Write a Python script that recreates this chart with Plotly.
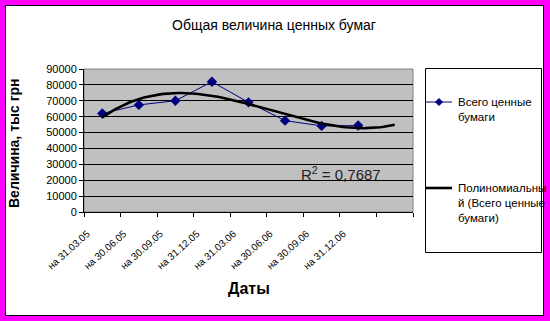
import numpy as np
import plotly.graph_objects as go

# ---------------- data ----------------
categories = ["на 31.03.05", "на 30.06.05", "на 30.09.05", "на 31.12.05",
              "на 31.03.06", "на 30.06.06", "на 30.09.06", "на 31.12.06", " "]
securities_total = [62000, 67400, 70000, 82000, 69000, 57500, 54200, 54400]
y_ticks = [0, 10000, 20000, 30000, 40000, 50000, 60000, 70000, 80000, 90000]
series_name = "Всего ценные бумаги"
trend_name = "Полиномиальный (Всего ценные бумаги)"
r2_text = "R<sup>2</sup> = 0,7687"
title_text = "Общая величина ценных бумаг"
x_title = "Даты"
y_title = "Величина, тыс грн"

# cubic polynomial trendline (Excel-style), forecast forward one period
idx = np.arange(len(securities_total))
coef = np.polyfit(idx, securities_total, 3)
trend_x = np.linspace(0, len(categories) - 1, 120)
trend_y = np.polyval(coef, trend_x)

# ---------------- layout geometry (pixels) ----------------
W, H = 550, 321
L, R, T, B = 84, 413, 69, 212
FONT = "Liberation Sans, Arial, sans-serif"


def px(p):
    return (p - L) / (R - L)


def py(p):
    return (B - p) / (B - T)


fig = go.Figure()

fig.add_trace(go.Scatter(
    x=categories[:len(securities_total)], y=securities_total,
    mode="lines+markers", name=series_name,
    line=dict(color="#000080", width=1),
    marker=dict(symbol="diamond", size=8, color="#000080"),
    xaxis="x", yaxis="y", showlegend=False, hoverinfo="skip"))

fig.add_trace(go.Scatter(
    x=trend_x, y=trend_y, mode="lines", name=trend_name,
    line=dict(color="#000000", width=2.6),
    xaxis="x2", yaxis="y", showlegend=False, hoverinfo="skip"))

shapes = [
    # chart area (white with black frame inside magenta border)
    dict(type="rect", xref="paper", yref="paper", layer="below",
         x0=px(5.5), x1=px(543.5), y0=py(315.5), y1=py(5.5),
         fillcolor="white", line=dict(color="black", width=1)),
    # plot area
    dict(type="rect", xref="paper", yref="paper", layer="below",
         x0=0, x1=1, y0=0, y1=1,
         fillcolor="#C0C0C0", line=dict(color="#808080", width=1)),
    # legend box
    dict(type="rect", xref="paper", yref="paper", layer="below",
         x0=px(425.5), x1=px(541.5), y0=py(252.5), y1=py(68.5),
         fillcolor="white", line=dict(color="black", width=1)),
    # legend sample 1 line
    dict(type="line", xref="paper", yref="paper",
         x0=px(426), x1=px(452), y0=py(102), y1=py(102),
         line=dict(color="#000080", width=1)),
    # legend sample 1 marker
    dict(type="path", xref="paper", yref="paper",
         path=f"M {px(439)} {py(98.5)} L {px(442.5)} {py(102)} L {px(439)} {py(105.5)} L {px(435.5)} {py(102)} Z",
         fillcolor="#000080", line=dict(color="#000080", width=1)),
    # legend sample 2 line
    dict(type="line", xref="paper", yref="paper",
         x0=px(426), x1=px(452), y0=py(188), y1=py(188),
         line=dict(color="black", width=2.6)),
]

annotations = [
    dict(text=title_text, x=px(273.5), y=py(25), xref="paper", yref="paper",
         showarrow=False, xanchor="center", yanchor="middle",
         font=dict(size=14, color="black", family=FONT)),
    dict(text=f"<b>{y_title}</b>", x=px(14), y=py(144), xref="paper", yref="paper",
         showarrow=False, xanchor="center", yanchor="middle", textangle=-90,
         font=dict(size=14, color="black", family=FONT)),
    dict(text=f"<b>{x_title}</b>", x=px(248.5), y=py(288), xref="paper", yref="paper",
         showarrow=False, xanchor="center", yanchor="middle",
         font=dict(size=16, color="black", family=FONT)),
    dict(text=r2_text, x=px(341), y=py(173), xref="paper", yref="paper",
         showarrow=False, xanchor="center", yanchor="middle",
         font=dict(size=15, color="#222222", family=FONT)),
    dict(text="Всего ценные<br>бумаги", x=px(456), y=py(94), xref="paper", yref="paper",
         showarrow=False, xanchor="left", yanchor="top", align="left",
         font=dict(size=11.5, color="black", family=FONT)),
    dict(text="Полиномиальны<br>й (Всего ценные<br>бумаги)", x=px(456), y=py(180),
         xref="paper", yref="paper",
         showarrow=False, xanchor="left", yanchor="top", align="left",
         font=dict(size=11.5, color="black", family=FONT)),
]

fig.update_layout(
    width=W, height=H,
    margin=dict(l=L, r=W - R, t=T, b=H - B, pad=0),
    paper_bgcolor="#FF00FF",
    plot_bgcolor="rgba(0,0,0,0)",
    showlegend=False,
    font=dict(family=FONT, color="black"),
    shapes=shapes,
    annotations=annotations,
    xaxis=dict(type="category", categoryorder="array", categoryarray=categories,
               range=[-0.5, len(categories) - 0.5],
               tickson="boundaries", ticks="outside", ticklen=4, tickcolor="black",
               showline=True, linecolor="black", linewidth=1, showgrid=False,
               tickangle=-42, tickfont=dict(size=10, color="black", family=FONT),
               ticklabelshift=-15, ticklabelstandoff=11, fixedrange=True),
    xaxis2=dict(overlaying="x", range=[-0.5, len(categories) - 0.5], visible=False,
                fixedrange=True),
    yaxis=dict(range=[0, 90000], tickvals=y_ticks, tickformat="d",
               ticks="outside", ticklen=4, tickcolor="black",
               showline=True, linecolor="black", linewidth=1,
               showgrid=True, gridcolor="black", gridwidth=1, zeroline=False,
               tickfont=dict(size=11, color="black", family=FONT), fixedrange=True),
)

fig.write_html("out.html", config={"displayModeBar": False, "staticPlot": True})
